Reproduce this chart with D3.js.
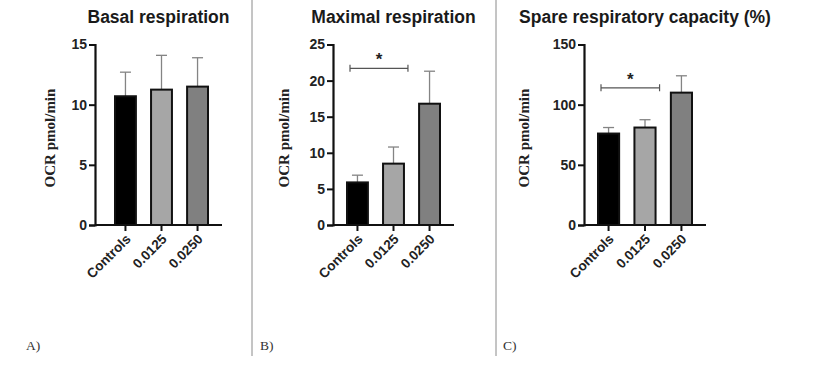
<!DOCTYPE html>
<html>
<head>
<meta charset="utf-8">
<script src="https://cdn.jsdelivr.net/npm/d3@7"></script>
<style>
  body { margin: 0; background: #fff; }
  svg { display: block; }
</style>
</head>
<body>
<svg id="chart" width="836" height="365"></svg>
<script>
// groups shared by all three panels
var groups = ["Controls", "0.0125", "0.0250"];
var barColors = ["#000000", "#a6a6a6", "#808080"];

// panel A: basal respiration (mean, SD)
var basalMean = [10.7, 11.25, 11.5];
var basalSD = [2.0, 2.85, 2.4];
var basalTicks = [0, 5, 10, 15];

// panel B: maximal respiration
var maxMean = [5.9, 8.5, 16.8];
var maxSD = [1.0, 2.3, 4.5];
var maxTicks = [0, 5, 10, 15, 20, 25];

// panel C: spare respiratory capacity (%)
var spareMean = [76, 81, 110];
var spareSD = [5, 6.5, 14];
var spareTicks = [0, 50, 100, 150];

var panelLabels = ["A)", "B)", "C)"];

var svg = d3.select("#chart");

var panels = [
	{ title: "Basal respiration", mean: basalMean, sd: basalSD, ticks: basalTicks, left: 95, right: 222, barsFrom: 115, barsTo: 208, labelX: 50, sig: null },
	{ title: "Maximal respiration", mean: maxMean, sd: maxSD, ticks: maxTicks, left: 333, right: 454, barsFrom: 347, barsTo: 440, labelX: 284, sig: 21.7 },
	{ title: "Spare respiratory capacity (%)", mean: spareMean, sd: spareSD, ticks: spareTicks, left: 584, right: 706, barsFrom: 598, barsTo: 692, labelX: 524, sig: 114 }
];

var plotTop = 44.5, plotBottom = 225;

panels.forEach(function(p) {
	var g = svg.append("g");

	var y = d3.scaleLinear()
		.domain([0, d3.max(p.ticks)])
		.range([plotBottom, plotTop]);

	var x = d3.scaleBand()
		.domain(groups)
		.range([p.barsFrom, p.barsTo])
		.paddingInner(0.42)
		.paddingOuter(0);

	// error bars (upper only), drawn under the bars
	groups.forEach(function(k, i) {
		var cx = x(k) + x.bandwidth() / 2;
		g.append("line")
			.attr("x1", cx).attr("x2", cx)
			.attr("y1", y(p.mean[i])).attr("y2", y(p.mean[i] + p.sd[i]))
			.attr("stroke", "#848484").attr("stroke-width", 1.3);
		g.append("line")
			.attr("x1", cx - 5.5).attr("x2", cx + 5.5)
			.attr("y1", y(p.mean[i] + p.sd[i])).attr("y2", y(p.mean[i] + p.sd[i]))
			.attr("stroke", "#848484").attr("stroke-width", 1.3);
	});

	// bars
	g.selectAll("rect")
		.data(groups)
		.enter()
		.append("rect")
		.attr("x", d => x(d))
		.attr("y", (d, i) => y(p.mean[i]))
		.attr("width", x.bandwidth())
		.attr("height", (d, i) => plotBottom - y(p.mean[i]))
		.attr("fill", (d, i) => barColors[i])
		.attr("stroke", "#111")
		.attr("stroke-width", 2);

	// y axis
	var yAxis = g.append("g")
		.attr("transform", "translate(" + p.left + ",0)")
		.call(d3.axisLeft(y).tickValues(p.ticks).tickSize(6).tickPadding(2));
	yAxis.select(".domain").attr("stroke", "#111").attr("stroke-width", 2.2);
	yAxis.selectAll(".tick line").attr("stroke", "#111").attr("stroke-width", 2);
	yAxis.selectAll("text")
		.attr("font-family", "Liberation Sans, Arial, sans-serif")
		.attr("font-weight", "bold")
		.attr("font-size", 14)
		.attr("fill", "#222");

	// x axis
	var xAxis = g.append("g")
		.attr("transform", "translate(0," + plotBottom + ")")
		.call(d3.axisBottom(x).tickSizeOuter(0).tickSize(6));
	xAxis.select(".domain")
		.attr("d", "M" + p.left + ",0H" + p.right)
		.attr("stroke", "#111").attr("stroke-width", 2.2);
	xAxis.selectAll(".tick line").attr("stroke", "#111").attr("stroke-width", 2);
	xAxis.selectAll("text")
		.attr("font-family", "Liberation Sans, Arial, sans-serif")
		.attr("font-weight", "bold")
		.attr("font-size", 13.5)
		.attr("fill", "#222")
		.attr("text-anchor", "end")
		.attr("y", 0)
		.attr("dy", null)
		.attr("transform", "translate(6,15) rotate(-45)");

	// title
	g.append("text")
		.attr("x", (p.left + p.right) / 2)
		.attr("y", 23)
		.attr("text-anchor", "middle")
		.attr("font-family", "Liberation Sans, Arial, sans-serif")
		.attr("font-weight", "bold")
		.attr("font-size", 17.5)
		.attr("fill", "#1a1a1a")
		.text(p.title);

	// y label
	g.append("text")
		.attr("transform", "translate(" + p.labelX + ",138) rotate(-90)")
		.attr("text-anchor", "middle")
		.attr("dominant-baseline", "central")
		.attr("font-family", "Liberation Serif, Times New Roman, serif")
		.attr("font-weight", "bold")
		.attr("font-size", 15)
		.attr("fill", "#222")
		.text("OCR pmol/min");

	// significance bracket between Controls and 0.0125
	if (p.sig !== null) {
		var x1 = x("Controls") + 3;
		var x2 = x("0.0125") + x.bandwidth() + 4;
		var sy = y(p.sig);
		g.append("path")
			.attr("d", "M" + x1 + "," + (sy - 3.5) + "V" + (sy + 3.5) + "M" + x1 + "," + sy + "H" + x2 + "M" + x2 + "," + (sy - 3.5) + "V" + (sy + 3.5))
			.attr("fill", "none")
			.attr("stroke", "#555")
			.attr("stroke-width", 1.2);
		g.append("text")
			.attr("x", (x1 + x2) / 2)
			.attr("y", sy - 3)
			.attr("text-anchor", "middle")
			.attr("font-family", "Liberation Sans, Arial, sans-serif")
			.attr("font-weight", "bold")
			.attr("font-size", 17)
			.attr("fill", "#222")
			.text("*");
	}
});

// divider lines between panels
[252, 496].forEach(function(dx) {
	svg.append("line")
		.attr("x1", dx).attr("x2", dx)
		.attr("y1", 0).attr("y2", 356)
		.attr("stroke", "#8a8a8a").attr("stroke-width", 1);
});

// panel letters
[26, 260, 503].forEach(function(lx, i) {
	svg.append("text")
		.attr("x", lx).attr("y", 350)
		.attr("font-family", "Liberation Serif, Times New Roman, serif")
		.attr("font-size", 13.5)
		.attr("fill", "#333")
		.text(panelLabels[i]);
});
</script>
</body>
</html>
